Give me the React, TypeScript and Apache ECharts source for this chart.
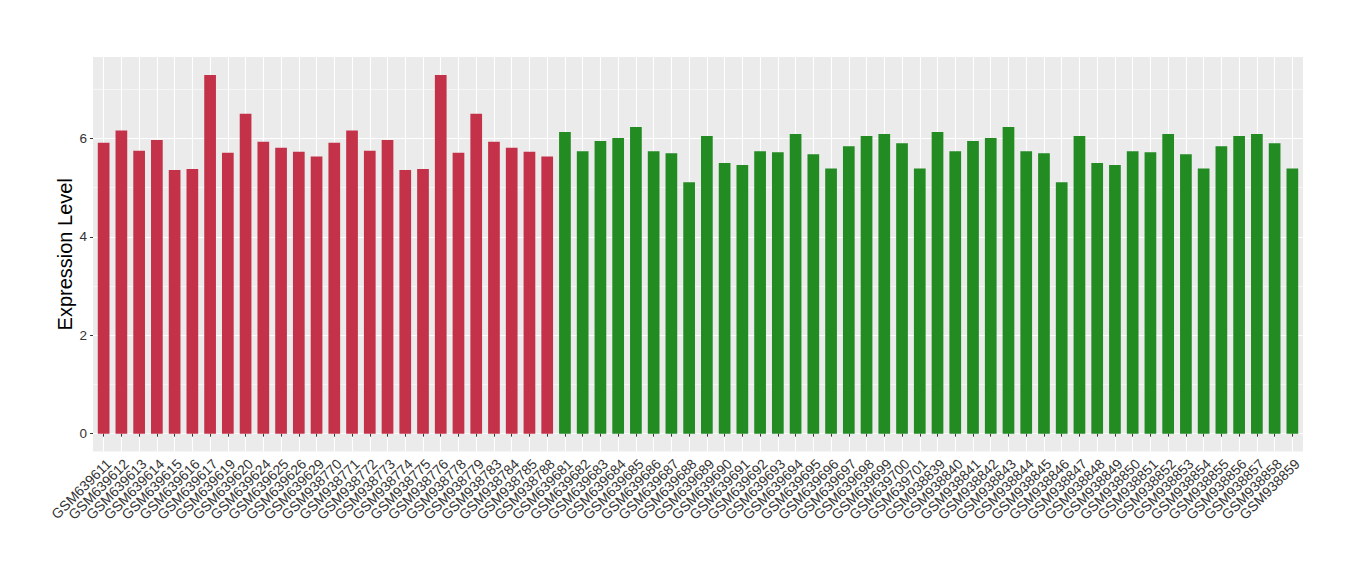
import React, { useEffect, useRef } from 'react';
import * as echarts from 'echarts';

const redSamples = [
  'GSM639611', 'GSM639612', 'GSM639613', 'GSM639614', 'GSM639615', 'GSM639616',
  'GSM639617', 'GSM639619', 'GSM639620', 'GSM639624', 'GSM639625', 'GSM639626',
  'GSM639629', 'GSM938770', 'GSM938771', 'GSM938772', 'GSM938773', 'GSM938774',
  'GSM938775', 'GSM938776', 'GSM938778', 'GSM938779', 'GSM938783', 'GSM938784',
  'GSM938785', 'GSM938788',
];
const redValues = [
  5.91, 6.16, 5.75, 5.97, 5.36, 5.38, 7.29, 5.71, 6.5, 5.93, 5.81, 5.73, 5.63,
  5.91, 6.16, 5.75, 5.97, 5.36, 5.38, 7.29, 5.71, 6.5, 5.93, 5.81, 5.73, 5.63,
];
const greenSamples = [
  'GSM639681', 'GSM639682', 'GSM639683', 'GSM639684', 'GSM639685', 'GSM639686',
  'GSM639687', 'GSM639688', 'GSM639689', 'GSM639690', 'GSM639691', 'GSM639692',
  'GSM639693', 'GSM639694', 'GSM639695', 'GSM639696', 'GSM639697', 'GSM639698',
  'GSM639699', 'GSM639700', 'GSM639701', 'GSM938839', 'GSM938840', 'GSM938841',
  'GSM938842', 'GSM938843', 'GSM938844', 'GSM938845', 'GSM938846', 'GSM938847',
  'GSM938848', 'GSM938849', 'GSM938850', 'GSM938851', 'GSM938852', 'GSM938853',
  'GSM938854', 'GSM938855', 'GSM938856', 'GSM938857', 'GSM938858', 'GSM938859',
];
const greenValues = [
  6.13, 5.74, 5.95, 6.01, 6.23, 5.74, 5.7, 5.11, 6.05, 5.5, 5.46, 5.74, 5.72, 6.09,
  5.68, 5.39, 5.84, 6.05, 6.09, 5.9, 5.39,
  6.13, 5.74, 5.95, 6.01, 6.23, 5.74, 5.7, 5.11, 6.05, 5.5, 5.46, 5.74, 5.72, 6.09,
  5.68, 5.39, 5.84, 6.05, 6.09, 5.9, 5.39,
];
const yTickValues = [0, 2, 4, 6];
const yTitle = 'Expression Level';

const RED = '#C4324A';
const GREEN = '#228B22';
const FONT = '"Liberation Sans", Arial, Helvetica, sans-serif';

export default function App() {
  const ref = useRef<HTMLDivElement>(null);
  useEffect(() => {
    if (!ref.current) return;
    const chart = echarts.init(ref.current, null, { renderer: 'svg' });
    const categories = [...redSamples, ...greenSamples];
    const data = [
      ...redValues.map((v) => ({ value: v, itemStyle: { color: RED } })),
      ...greenValues.map((v) => ({ value: v, itemStyle: { color: GREEN } })),
    ];
    const maxV = Math.max(...redValues, ...greenValues);
    const yMin = -0.05 * maxV;
    const yMax = 1.05 * maxV;

    const W = 1360;
    const H = 580;
    const pL = 93;
    const pR = 1303;
    const pT = 57;
    const pB = 451.6;
    const n = categories.length;
    const unit = (pR - pL) / (n + 0.2);
    const inset = 0.1 * unit;

    const option: any = {
      animation: false,
      backgroundColor: '#FFFFFF',
      textStyle: { fontFamily: FONT },
      graphic: [
        {
          type: 'rect',
          z: -10,
          silent: true,
          shape: { x: pL, y: pT, width: pR - pL, height: pB - pT },
          style: { fill: '#EBEBEB' },
        },
      ],
      grid: [
        { left: pL, right: W - pR, top: pT, bottom: H - pB, containLabel: false },
        { left: pL + inset, right: W - pR + inset, top: pT, bottom: H - pB, containLabel: false },
      ],
      xAxis: [
        { gridIndex: 0, type: 'value', show: false, min: 0, max: 1 },
        {
          gridIndex: 1,
          type: 'category',
          data: categories,
          axisLine: { show: false },
          axisTick: { show: true, alignWithLabel: true, length: 3, lineStyle: { color: '#333333', width: 1 } },
          splitLine: { show: true, alignWithLabel: true, lineStyle: { color: '#FFFFFF', width: 1.1 } },
          axisLabel: {
            interval: 0,
            rotate: 45,
            align: 'right',
            verticalAlign: 'top',
            margin: 5,
            fontSize: 14,
            color: '#333333',
            fontFamily: FONT,
          },
        },
      ],
      yAxis: [
        {
          gridIndex: 0,
          type: 'value',
          min: yMin,
          max: yMax,
          splitNumber: 4,
          name: yTitle,
          nameLocation: 'middle',
          nameMoveOverlap: false,
          nameGap: 18,
          nameTextStyle: { fontSize: 20, color: '#000000', fontFamily: FONT },
          axisLine: { show: false },
          axisTick: { show: true, length: 3, customValues: yTickValues, lineStyle: { color: '#333333', width: 1 } },
          axisLabel: {
            customValues: yTickValues,
            margin: 6,
            fontSize: 13.5,
            color: '#333333',
            fontFamily: FONT,
            formatter: (v: number) => (Number.isInteger(v) ? String(v) : ''),
          },
          splitLine: { show: true, lineStyle: { color: '#FFFFFF', width: 1.1 } },
          minorTick: { show: false, splitNumber: 2 },
          minorSplitLine: { show: true, lineStyle: { color: '#FFFFFF', width: 0.55 } },
        },
        { gridIndex: 1, type: 'value', min: yMin, max: yMax, show: false },
      ],
      series: [
        {
          type: 'bar',
          xAxisIndex: 1,
          yAxisIndex: 1,
          data,
          barWidth: '66%',
        },
      ],
    };
    chart.setOption(option);
    return () => chart.dispose();
  }, []);
  return (
    <div
      ref={ref}
      style={{ position: 'fixed', left: 0, top: 0, width: 1360, height: 580, background: '#fff' }}
    />
  );
}
